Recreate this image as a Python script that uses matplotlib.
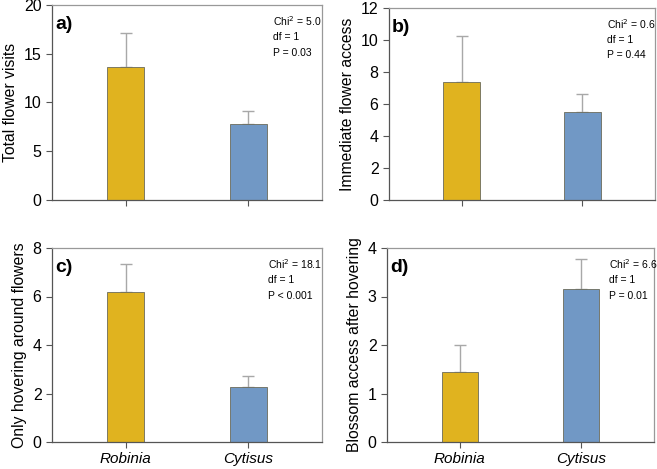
import matplotlib
matplotlib.use("Agg")
import matplotlib.pyplot as plt

plt.rcParams['font.family'] = ['Liberation Sans', 'DejaVu Sans']

species = ["Robinia", "Cytisus"]
panel_labels = ["a)", "b)", "c)", "d)"]
ylabels = ["Total flower visits", "Immediate flower access",
           "Only hovering around flowers", "Blossom access after hovering"]
means_a = [13.6, 7.75]
err_a = [3.5, 1.4]
means_b = [7.4, 5.5]
err_b = [2.85, 1.1]
means_c = [6.2, 2.25]
err_c = [1.15, 0.47]
means_d = [1.45, 3.15]
err_d = [0.55, 0.62]
ylims = [(0, 20), (0, 12), (0, 8), (0, 4)]
yticks = [[0, 5, 10, 15, 20], [0, 2, 4, 6, 8, 10, 12], [0, 2, 4, 6, 8], [0, 1, 2, 3, 4]]
chi = ["5.0", "0.6", "18.1", "6.6"]
dfs = ["1", "1", "1", "1"]
pvals = ["P = 0.03", "P = 0.44", "P < 0.001", "P = 0.01"]

colors = ["#E0B31F", "#7198C5"]

fig = plt.figure(figsize=(6.57, 4.69), dpi=100)
W, H = 657, 469
boxes = [(52, 5, 322, 200), (389, 8, 655, 200), (52, 248, 322, 442), (387, 248, 654, 442)]
text_x = [0.82, 0.82, 0.80, 0.83]
means = [means_a, means_b, means_c, means_d]
errs = [err_a, err_b, err_c, err_d]

for i, (l, t, r, b) in enumerate(boxes):
    ax = fig.add_axes([l / W, 1 - b / H, (r - l) / W, (b - t) / H])
    x = [0, 1]
    ax.bar(x, means[i], width=0.30, color=colors, edgecolor="#6b6b5a", linewidth=0.6, zorder=2)
    ax.errorbar(x, means[i], yerr=[[0, 0], errs[i]], fmt="none", ecolor="#a8a8a8",
                elinewidth=1.0, capsize=4.5, capthick=1.0, zorder=1)
    ax.set_xlim(-0.6, 1.6)
    ax.set_ylim(*ylims[i])
    ax.set_yticks(yticks[i])
    ax.set_xticks(x)
    if i >= 2:
        ax.set_xticklabels(species, fontstyle="italic", fontsize=11)
    else:
        ax.set_xticklabels([])
    ax.tick_params(axis="y", labelsize=11.5, direction="out", length=4, width=0.8, color="#555555")
    ax.tick_params(axis="x", direction="out", length=4, width=0.8, color="#555555", pad=3)
    ax.set_ylabel(ylabels[i], fontsize=11.3, labelpad=4)
    for s in ["left", "bottom"]:
        ax.spines[s].set_color("#555555")
        ax.spines[s].set_linewidth(0.9)
    for s in ["top", "right"]:
        ax.spines[s].set_color("#999999")
        ax.spines[s].set_linewidth(0.9)
    ax.text(0.012, 0.945, panel_labels[i], transform=ax.transAxes, fontsize=14,
            fontweight="bold", va="top", ha="left")
    tx = text_x[i]
    ax.text(tx, 0.915, "Chi$^{2}$ = " + chi[i], transform=ax.transAxes,
            fontsize=7.5, va="center", ha="left")
    ax.text(tx, 0.835, "df = " + dfs[i], transform=ax.transAxes,
            fontsize=7.5, va="center", ha="left")
    ax.text(tx, 0.755, pvals[i], transform=ax.transAxes,
            fontsize=7.5, va="center", ha="left")

fig.savefig("out.png", dpi=100)
